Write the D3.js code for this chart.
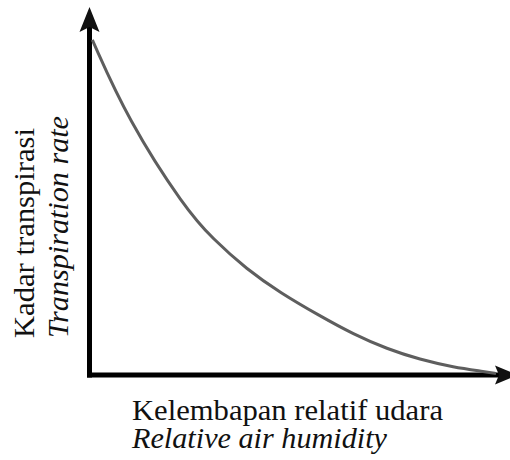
<!DOCTYPE html>
<html>
<head>
<meta charset="utf-8">
<script src="https://cdn.jsdelivr.net/npm/d3@7"></script>
<style>
  body { margin: 0; background: #fff; }
  svg { display: block; }
</style>
</head>
<body>
<div id="chart"></div>
<script>
'use strict';

// humidity (0-100) vs transpiration rate (0-100)
const humidity = [0.7, 9.5, 23.5, 30.4, 38.7, 46.9, 56.7, 64.9, 73.2, 81.3, 89.4, 97.8, 100];
const transpiration = [97.7, 74.3, 48.6, 39.6, 30.8, 24.0, 17.2, 11.9, 7.6, 4.5, 2.3, 0.9, 0.4];

const xLabels = ['Kelembapan relatif udara', 'Relative air humidity'];
const yLabels = ['Kadar transpirasi', 'Transpiration rate'];

const WIDTH = 510, HEIGHT = 460;
const origin = {x: 89.5, y: 375};
const SERIF = "'Liberation Serif', Tinos, 'Times New Roman', Times, 'DejaVu Serif', serif";

const svg = d3.select('#chart').append('svg')
    .attr('width', WIDTH)
    .attr('height', HEIGHT);

// scales
let x = d3.scaleLinear().domain([0, 100]).range([origin.x, 496]);
let y = d3.scaleLinear().domain([0, 100]).range([origin.y, 32]);

// axes - no ticks, just the thick lines with arrows
let xAxisScale = d3.scaleLinear().domain([0, 1]).range([origin.x - 2.5, 500]);
let yAxisScale = d3.scaleLinear().domain([0, 1]).range([origin.y + 2.5, 26]);

svg.append('g')
    .attr('class', 'x-axis')
    .attr('transform', 'translate(0,' + origin.y + ')')
    .call(d3.axisBottom(xAxisScale).ticks(0).tickSizeOuter(0));

svg.append('g')
    .attr('class', 'y-axis')
    .attr('transform', 'translate(' + origin.x + ',0)')
    .call(d3.axisLeft(yAxisScale).ticks(0).tickSizeOuter(0));

svg.selectAll('.x-axis .domain, .y-axis .domain')
    .attr('stroke', '#000')
    .attr('stroke-width', 5)
    .attr('transform', 'translate(-0.5,-0.5)');

// arrow heads
svg.append('path')
    .attr('d', `M${origin.x},7 L${origin.x + 10},32 L${origin.x},27 L${origin.x - 10},32 Z`)
    .attr('fill', '#111');
svg.append('path')
    .attr('d', `M518,${origin.y} L495,${origin.y - 9.5} L499,${origin.y} L495,${origin.y + 9.5} Z`)
    .attr('fill', '#111');

// the curve
let line = d3.line()
    .x((d, i) => x(humidity[i]))
    .y((d, i) => y(transpiration[i]))
    .curve(d3.curveBasis);

svg.append('path')
    .datum(humidity)
    .attr('d', line)
    .attr('fill', 'none')
    .attr('stroke', '#5e5e5e')
    .attr('stroke-width', 3);

function label(txt, tx, ty, rot, len, italic) {
    svg.append('text')
        .attr('transform', `translate(${tx},${ty}) rotate(${rot})`)
        .attr('font-family', SERIF)
        .attr('font-size', 29)
        .attr('font-style', italic ? 'italic' : 'normal')
        .attr('fill', '#111')
        .attr('textLength', len)
        .attr('lengthAdjust', 'spacingAndGlyphs')
        .style('font-family', SERIF)
        .text(txt);
}

// x labels
label(xLabels[0], 132, 420, 0, 311, false);
label(xLabels[1], 132, 448, 0, 255, true);

// y labels
label(yLabels[0], 34, 338, -90, 210, false);
label(yLabels[1], 68, 338, -90, 222, true);
</script>
</body>
</html>
